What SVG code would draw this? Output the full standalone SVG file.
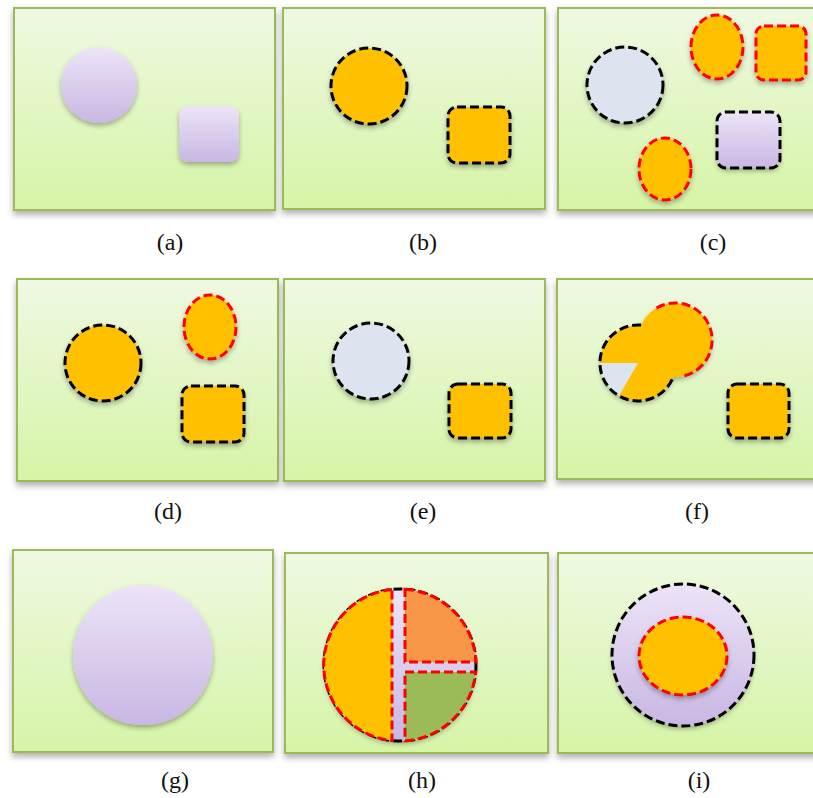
<svg xmlns="http://www.w3.org/2000/svg" width="813" height="798" viewBox="0 0 813 798">
<defs>
<linearGradient id="gPanel" x1="0" y1="0" x2="0" y2="1">
<stop offset="0" stop-color="#EEF9E2"/>
<stop offset="1" stop-color="#D6F4A6"/>
</linearGradient>
<linearGradient id="gLav" x1="0" y1="0" x2="0" y2="1">
<stop offset="0" stop-color="#ECE4F7"/>
<stop offset="1" stop-color="#C8B7E3"/>
</linearGradient>
<filter id="sh" x="-20%" y="-20%" width="140%" height="150%">
<feDropShadow dx="0" dy="3" stdDeviation="2.5" flood-color="#000" flood-opacity="0.3"/>
</filter>
<filter id="shp" x="-5%" y="-5%" width="110%" height="115%">
<feDropShadow dx="0" dy="4" stdDeviation="3" flood-color="#000" flood-opacity="0.3"/>
</filter>
</defs>
<style>
.panel{fill:url(#gPanel);stroke:#9BBB59;stroke-width:2;filter:url(#shp)}
.lav{fill:url(#gLav);filter:url(#sh)}
.blue{fill:#DCE4F0}
.org{fill:#FFC000}
.bd{stroke:#000;stroke-width:3;stroke-dasharray:9 4}
.rd{stroke:#FF0000;stroke-width:3;stroke-dasharray:9 4}
.sd{filter:url(#sh)}
.lbl{font-family:"Liberation Serif","Times New Roman",serif;font-size:24px;fill:#111;text-anchor:middle}
</style>
<rect width="813" height="798" fill="#fff"/>

<g id="panel-a">
<rect class="panel" x="14" y="8" width="261" height="202"/>
<circle class="lav" cx="99" cy="85" r="38"/>
<rect class="lav" x="179" y="106" width="60" height="56" rx="9"/>
<text class="lbl" x="170" y="250">(a)</text>
</g>

<g id="panel-b">
<rect class="panel" x="283" y="8" width="262" height="201"/>
<circle class="org bd sd" cx="369" cy="86" r="38"/>
<rect class="org bd sd" x="448" y="107" width="62" height="56" rx="9"/>
<text class="lbl" x="423" y="250">(b)</text>
</g>

<g id="panel-c">
<rect class="panel" x="558" y="8" width="262" height="202"/>
<circle class="blue bd sd" cx="625" cy="85" r="38"/>
<ellipse class="org rd sd" cx="717" cy="47" rx="26" ry="32"/>
<rect class="org rd sd" x="756" y="26" width="50" height="54" rx="8"/>
<rect class="lav" x="717" y="112" width="63" height="56" rx="9"/>
<rect class="bd" fill="none" x="717" y="112" width="63" height="56" rx="9"/>
<ellipse class="org rd sd" cx="665" cy="169" rx="26" ry="31"/>
<text class="lbl" x="713" y="250">(c)</text>
</g>

<g id="panel-d">
<rect class="panel" x="17" y="279" width="261" height="202"/>
<circle class="org bd sd" cx="103" cy="363" r="38"/>
<ellipse class="org rd sd" cx="210" cy="327" rx="26" ry="32"/>
<rect class="org bd sd" x="182" y="386" width="62" height="56" rx="9"/>
<text class="lbl" x="168" y="519">(d)</text>
</g>

<g id="panel-e">
<rect class="panel" x="284" y="279" width="261" height="202"/>
<circle class="blue bd sd" cx="371" cy="361" r="38"/>
<rect class="org bd sd" x="449" y="384" width="62" height="54" rx="9"/>
<text class="lbl" x="423" y="519">(e)</text>
</g>

<g id="panel-f">
<rect class="panel" x="557" y="279" width="263" height="200"/>
<g class="sd">
<circle class="org" cx="638" cy="363" r="38"/>
<circle class="org" cx="675" cy="340" r="37"/>
</g>
<path class="blue" d="M638,363 L600,363 A38,38 0 0,0 619,395.9 Z"/>
<path class="bd" fill="none" d="M641.1,325.1 A38,38 0 1,0 673.3,376.9"/>
<path class="rd" fill="none" d="M656.5,308 A37,37 0 1,1 684,375.9"/>
<rect class="org bd sd" x="728" y="384" width="61" height="54" rx="9"/>
<text class="lbl" x="697" y="519">(f)</text>
</g>

<g id="panel-g">
<rect class="panel" x="13" y="550" width="260" height="202"/>
<circle class="lav" cx="143" cy="655" r="70"/>
<text class="lbl" x="175" y="788">(g)</text>
</g>

<g id="panel-h">
<rect class="panel" x="285" y="553" width="263" height="200"/>
<circle class="lav" cx="400" cy="665" r="76"/>
<circle class="bd" fill="none" cx="400" cy="665" r="76"/>
<path class="org rd" d="M392,589.4 A76,76 0 0,0 392,740.6 Z"/>
<path class="rd" fill="#F79646" d="M405,589.2 A76,76 0 0,1 475.9,662 L405,662 Z"/>
<path class="rd" fill="#9BBB59" d="M405,672 L475.7,672 A76,76 0 0,1 405,740.8 Z"/>
<text class="lbl" x="422" y="788">(h)</text>
</g>

<g id="panel-i">
<rect class="panel" x="558" y="553" width="262" height="200"/>
<circle class="lav" cx="683" cy="655" r="71"/>
<circle class="bd" fill="none" cx="683" cy="655" r="71"/>
<ellipse class="org rd sd" cx="683" cy="656" rx="44" ry="39"/>
<text class="lbl" x="699" y="788">(i)</text>
</g>

<g id="connectors"/>
</svg>
